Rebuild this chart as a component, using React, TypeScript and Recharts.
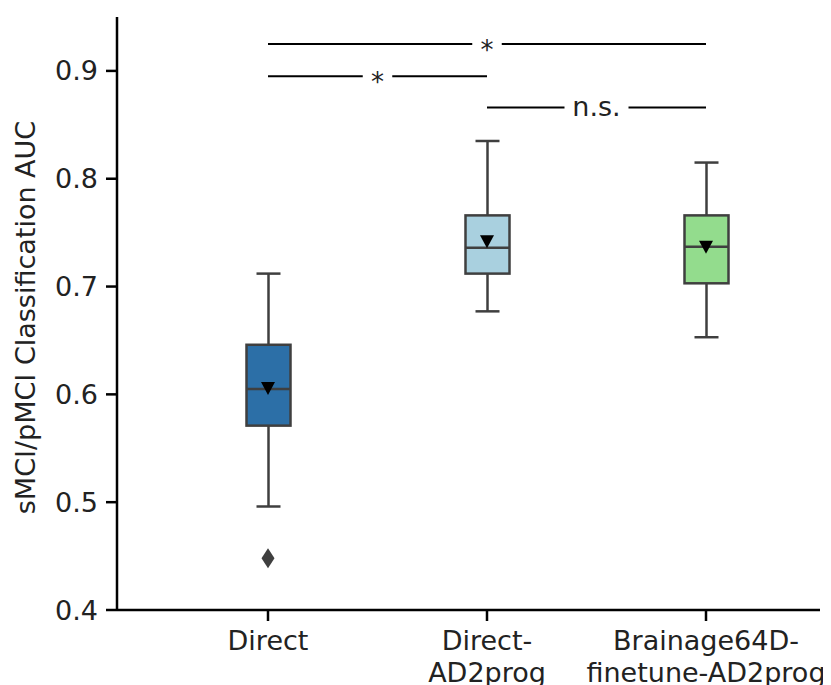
import React from "react";
import {
  ComposedChart,
  Bar,
  Scatter,
  XAxis,
  YAxis,
  ReferenceLine,
  Cell,
} from "recharts";

// box stats
const categories = ["Direct", "Direct-\nAD2prog", "Brainage64D-\nfinetune-AD2prog"];
const whiskerLow = [0.496, 0.677, 0.653];
const q1 = [0.571, 0.712, 0.703];
const median = [0.605, 0.736, 0.737];
const q3 = [0.646, 0.766, 0.766];
const whiskerHigh = [0.712, 0.835, 0.815];
const means = [0.606, 0.742, 0.737];
const outliers = [0.448, null, null];
const boxColors = ["#2c6fa7", "#a9d0df", "#93dc8d"];

const yTicks = [0.4, 0.5, 0.6, 0.7, 0.8, 0.9];

// significance brackets
const sigFrom = [0, 0, 1];
const sigTo = [2, 1, 2];
const sigLevel = [0.925, 0.895, 0.866];
const sigText = ["*", "*", "n.s."];

const data = categories.map((name, i) => ({
  name,
  whisker: [whiskerLow[i], whiskerHigh[i]],
  box: [q1[i], q3[i]],
  median: median[i],
  mean: means[i],
  outlier: outliers[i],
}));

const FONT = "DejaVu Sans";
const EDGE = "#3f3f3f";

const WhiskerShape = (props: any) => {
  const { x, y, width, height } = props;
  const cx = x + width / 2;
  return (
    <g stroke={EDGE} strokeWidth={2.5}>
      <line x1={cx} x2={cx} y1={y} y2={y + height} />
      <line x1={x} x2={x + width} y1={y} y2={y} />
      <line x1={x} x2={x + width} y1={y + height} y2={y + height} />
    </g>
  );
};

const BoxShape = (props: any) => {
  const { x, y, width, height, fill } = props;
  return <rect x={x} y={y} width={width} height={height} fill={fill} stroke={EDGE} strokeWidth={2.5} />;
};

const MedianShape = (props: any) => {
  const { cx, cy } = props;
  return <line x1={cx - 22} x2={cx + 22} y1={cy} y2={cy} stroke={EDGE} strokeWidth={2.5} />;
};

const MeanShape = (props: any) => {
  const { cx, cy } = props;
  return <path d={`M${cx - 7},${cy - 6} L${cx + 7},${cy - 6} L${cx},${cy + 7} Z`} fill="#000" />;
};

const OutlierShape = (props: any) => {
  const { cx, cy, payload } = props;
  if (payload == null || payload.outlier == null) return <g />;
  return <path d={`M${cx},${cy - 10} L${cx + 6.5},${cy} L${cx},${cy + 10} L${cx - 6.5},${cy} Z`} fill={EDGE} />;
};

const XTick = (props: any) => {
  const { x, y, payload } = props;
  const lines = String(payload.value).split("\n");
  return (
    <text x={x} y={y} textAnchor="middle" fontFamily={FONT} fontSize={27} fill="#222">
      {lines.map((l, i) => (
        <tspan key={i} x={x} dy={i === 0 ? 27 : 32}>
          {l}
        </tspan>
      ))}
    </text>
  );
};

const YLabel = (props: any) => {
  const vb = props.viewBox || { x: 0, y: 9, width: 109, height: 593 };
  const tx = vb.x + 27;
  const ty = vb.y + vb.height / 2 + 4;
  return (
    <text
      x={tx}
      y={ty}
      transform={`rotate(-90, ${tx}, ${ty})`}
      textAnchor="middle"
      fontFamily={FONT}
      fontSize={27}
      fill="#222"
    >
      sMCI/pMCI Classification AUC
    </text>
  );
};

const SigLabel = (props: any) => {
  const { viewBox, text } = props;
  if (!viewBox) return null;
  const cx = viewBox.x + viewBox.width / 2;
  const cy = viewBox.y;
  const gap = text.length * 11.5 + 18;
  const isStar = text === "*";
  return (
    <g>
      <rect x={cx - gap / 2} y={cy - 3} width={gap} height={6} fill="#fff" />
      <text
        x={cx}
        y={isStar ? cy + 15 : cy + 8}
        textAnchor="middle"
        fontFamily={FONT}
        fontSize={isStar ? 26 : 27}
        fill="#222"
      >
        {text}
      </text>
    </g>
  );
};

export default function App() {
  return (
    <ComposedChart
      width={815}
      height={677}
      data={data}
      margin={{ top: 9, right: 3, left: 0, bottom: 0 }}
    >
      <XAxis
        dataKey="name"
        type="category"
        padding={{ left: 41.5, right: 4.5 }}
        height={75}
        stroke="#000"
        strokeWidth={2.5}
        tickSize={11}
        tickLine={{ stroke: "#000", strokeWidth: 2.5 }}
        tick={<XTick />}
        interval={0}
      />
      <XAxis
        xAxisId="w"
        dataKey="name"
        type="category"
        padding={{ left: 41.5, right: 4.5 }}
        hide
      />
      <YAxis
        type="number"
        domain={[0.4, 0.95]}
        ticks={yTicks}
        allowDataOverflow
        width={109}
        stroke="#000"
        strokeWidth={2.5}
        tickSize={11}
        tickMargin={8}
        tickLine={{ stroke: "#000", strokeWidth: 2.5 }}
        tickFormatter={(v: number) => v.toFixed(1)}
        tick={{ fontFamily: FONT, fontSize: 27, fill: "#222" }}
        label={<YLabel />}
      />
      <Bar
        xAxisId="w"
        dataKey="whisker"
        barSize={24}
        shape={<WhiskerShape />}
        isAnimationActive={false}
      />
      <Bar dataKey="box" barSize={44} shape={<BoxShape />} isAnimationActive={false}>
        {data.map((d, i) => (
          <Cell key={d.name} fill={boxColors[i]} />
        ))}
      </Bar>
      <Scatter dataKey="median" shape={<MedianShape />} isAnimationActive={false} />
      <Scatter dataKey="mean" shape={<MeanShape />} isAnimationActive={false} />
      <Scatter dataKey="outlier" shape={<OutlierShape />} isAnimationActive={false} />
      {sigText.map((t, i) => (
        <ReferenceLine
          key={i}
          segment={[
            { x: categories[sigFrom[i]], y: sigLevel[i] },
            { x: categories[sigTo[i]], y: sigLevel[i] },
          ]}
          stroke="#000"
          strokeWidth={2}
          label={<SigLabel text={t} />}
        />
      ))}
    </ComposedChart>
  );
}
